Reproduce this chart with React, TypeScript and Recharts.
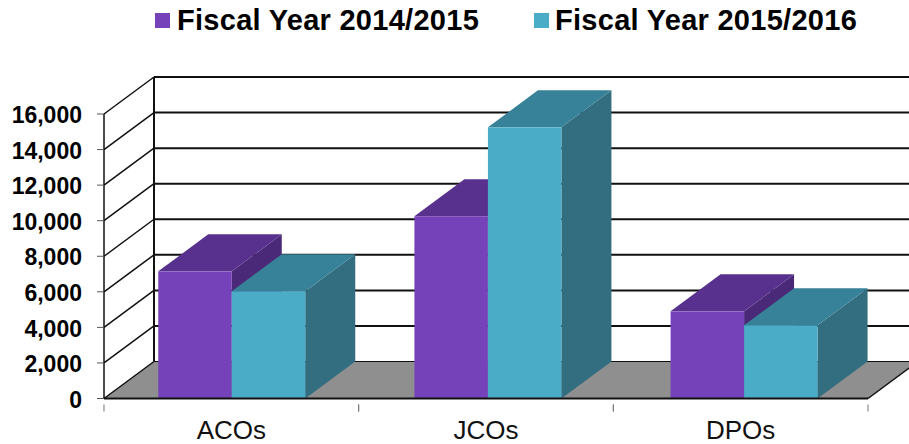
import { Bar, BarChart, CartesianGrid, Legend, XAxis, YAxis } from "recharts";

const categories = ["ACOs", "JCOs", "DPOs"];
const fy1415 = [7150, 10250, 4900];
const fy1516 = [6030, 15250, 4120];
const yTicks = [0, 2000, 4000, 6000, 8000, 10000, 12000, 14000, 16000];

const data = categories.map((name, i) => ({ name, fy1415: fy1415[i], fy1516: fy1516[i] }));

// depth of the fake 3d box, and the size of the front plane
const DX = 50;
const DY = 37;
const PLOT_H = 284.5;
const BAND = 254.67;
const LINE = "#111";

const PURPLE = { front: "#7542b9", top: "#58318e", side: "#4a2a78" };
const TEAL = { front: "#4aacc7", top: "#388299", side: "#326e7f" };

function pts(list: number[][]) {
    return list.map((p) => p.join(",")).join(" ");
}

function box(face: typeof PURPLE) {
    return ({ x, y, width, height }: any) => (
        <g>
            <polygon
                points={pts([[x + width, y], [x + width + DX, y - DY], [x + width + DX, y - DY + height], [x + width, y + height]])}
                fill={face.side}
            />
            <polygon
                points={pts([[x, y], [x + DX, y - DY], [x + width + DX, y - DY], [x + width, y]])}
                fill={face.top}
            />
            <rect x={x} y={y} width={width} height={height} fill={face.front} />
        </g>
    );
}

// one grid level: back wall line and the slanted line on the side wall
function GridLevel(props: any) {
    const { x1, x2, y1, index } = props;
    const isFloor = index === 0;
    const isTop = index === yTicks.length - 1;
    return (
        <g>
            {isFloor && (
                <polygon
                    points={pts([[x1, y1], [x1 + DX, y1 - DY], [x2 + DX, y1 - DY], [x2, y1]])}
                    fill="#8f8f8f"
                />
            )}
            {isFloor && <line x1={x2} y1={y1} x2={x2 + DX} y2={y1 - DY} stroke={LINE} strokeWidth={1.5} />}
            <line x1={x1 + DX} y1={y1 - DY} x2={x2 + DX} y2={y1 - DY} stroke={LINE} strokeWidth={isFloor ? 1 : 2} />
            <line x1={x1} y1={y1} x2={x1 + DX} y2={y1 - DY} stroke={LINE} strokeWidth={1.5} />
            {isTop && (
                <line x1={x1 + DX} y1={y1 - DY} x2={x1 + DX} y2={y1 - DY + PLOT_H} stroke={LINE} strokeWidth={2} />
            )}
        </g>
    );
}

// ticks sit between the categories, labels in the middle
function CategoryTick({ x, y, payload }: any) {
    return (
        <g>
            <line x1={x - BAND / 2} y1={y - 2} x2={x - BAND / 2} y2={y + 5} stroke="#777" />
            <line x1={x + BAND / 2} y1={y - 2} x2={x + BAND / 2} y2={y + 5} stroke="#777" />
            <text x={x} y={y + 32} textAnchor="middle" fontSize={26} fontFamily="Liberation Sans" fill="#111">
                {payload.value}
            </text>
        </g>
    );
}

function LegendRow({ payload }: any) {
    const swatches = [155, 534];
    const labels = [177, 555];
    return (
        <div style={{ position: "relative", height: 40 }}>
            {(payload ?? []).map((item: any, i: number) => (
                <div key={item.value}>
                    <span
                        style={{ position: "absolute", left: swatches[i], top: 13, width: 15, height: 15, background: item.color }}
                    />
                    <span
                        style={{
                            position: "absolute",
                            left: labels[i],
                            top: 3,
                            fontSize: 29,
                            lineHeight: "34px",
                            fontWeight: 700,
                            letterSpacing: 0.28,
                            whiteSpace: "nowrap",
                            color: "#000",
                            fontFamily: "Liberation Sans",
                        }}
                    >
                        {item.value}
                    </span>
                </div>
            ))}
        </div>
    );
}

export default function App() {
    return (
        <div style={{ position: "absolute", left: 0, top: 0, width: 909, height: 444, background: "#fff", overflow: "hidden" }}>
            <BarChart
                width={909}
                height={444}
                data={data}
                barSize={73.5}
                barGap={0}
                margin={{ top: 74, right: 41, bottom: 0, left: 4 }}
            >
                <Legend
                    verticalAlign="top"
                    height={40}
                    content={<LegendRow />}
                    wrapperStyle={{ left: 0, top: 0, width: 909, height: 40 }}
                />
                <CartesianGrid vertical={false} horizontal={(p: any) => <GridLevel key={p.index} {...p} />} />
                <XAxis
                    dataKey="name"
                    height={45.5}
                    tick={<CategoryTick />}
                    tickLine={false}
                    axisLine={{ stroke: LINE, strokeWidth: 2 }}
                    interval={0}
                />
                {/* the bars run on a slightly wider band than the labels */}
                <XAxis xAxisId="bars" dataKey="name" hide padding={{ left: -0.75, right: -3.75 }} />
                <YAxis
                    width={100}
                    domain={[0, 16000]}
                    ticks={yTicks}
                    interval={0}
                    tickFormatter={(v) => v.toLocaleString("en-US")}
                    tickSize={7}
                    tickMargin={15}
                    tickLine={{ stroke: "#555" }}
                    axisLine={{ stroke: LINE, strokeWidth: 1.5 }}
                    tick={{ fontSize: 23, fontWeight: 700, fontFamily: "Liberation Sans", fill: "#000", dy: 1 }}
                />
                <Bar xAxisId="bars" dataKey="fy1415" name="Fiscal Year 2014/2015" fill={PURPLE.front} shape={box(PURPLE)} isAnimationActive={false} />
                <Bar xAxisId="bars" dataKey="fy1516" name="Fiscal Year 2015/2016" fill={TEAL.front} shape={box(TEAL)} isAnimationActive={false} />
            </BarChart>
        </div>
    );
}
